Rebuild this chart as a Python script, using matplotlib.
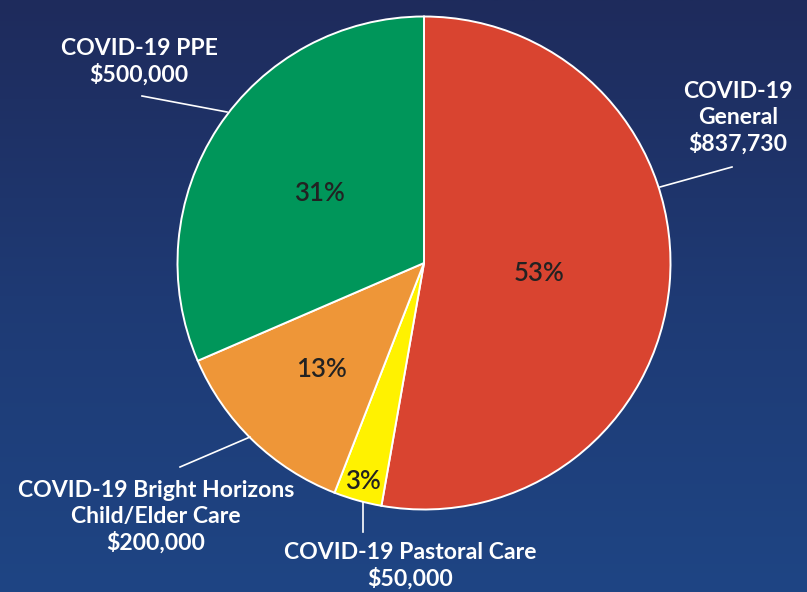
import numpy as np
import matplotlib
matplotlib.use("Agg")
import matplotlib.pyplot as plt
from matplotlib.colors import LinearSegmentedColormap

# ---- data ----
categories = ["COVID-19\nGeneral", "COVID-19 Pastoral Care", "COVID-19 Bright Horizons\nChild/Elder Care", "COVID-19 PPE"]
amounts = [837730, 50000, 200000, 500000]
amount_labels = ["$837,730", "$50,000", "$200,000", "$500,000"]
colors = ["#D94430", "#FFF200", "#EE9638", "#00965A"]

W, H = 807, 592
fig = plt.figure(figsize=(W / 100, H / 100), dpi=100)

# background gradient
bg = fig.add_axes([0, 0, 1, 1])
bg.set_axis_off()
cmap = LinearSegmentedColormap.from_list("bg", ["#1E2B5C", "#1F3A74", "#1E4584"])
grad = np.linspace(0, 1, 256).reshape(-1, 1)
bg.imshow(grad, aspect="auto", cmap=cmap, extent=[0, 1, 0, 1], origin="upper")
bg.set_xlim(0, 1)
bg.set_ylim(0, 1)

ax = fig.add_axes([0, 0, 1, 1])
ax.patch.set_alpha(0)

cx, cy, r = 424, H - 263, 246.5
pct_dist = [0.47, 0.92, 0.60, 0.51]

wedges, texts, autotexts = ax.pie(
    amounts, colors=colors, startangle=90, counterclock=False,
    center=(cx, cy), radius=r, autopct="%.0f%%", pctdistance=0.5,
    wedgeprops=dict(edgecolor="white", linewidth=1.4),
    textprops=dict(color="#222222", fontsize=18.5, family="Lato", weight="semibold"),
)
for w, t, d in zip(wedges, autotexts, pct_dist):
    ang = np.deg2rad((w.theta1 + w.theta2) / 2)
    t.set_position((cx + d * r * np.cos(ang), cy + d * r * np.sin(ang)))
    t.set_ha("center"); t.set_va("center")

# outside labels: (text pos px, leader start px, leader end px)
label_pos = [(738, 118), (410, 566), (156, 517), (139, 62)]
leader = [((732, 167), (660, 187)), ((363, 532), (363, 502)),
          ((180, 467), (250, 437)), ((142, 96), (227, 112))]
for cat, amt, (tx, ty), (p0, p1) in zip(categories, amount_labels, label_pos, leader):
    ax.text(tx, H - ty, cat + "\n" + amt, ha="center", va="center", color="white",
            fontsize=16.6, family="Lato", weight="bold", linespacing=1.25)
    ax.plot([p0[0], p1[0]], [H - p0[1], H - p1[1]], color="white", lw=1.2)

ax.set_xlim(0, W)
ax.set_ylim(0, H)
ax.set_aspect("auto")
ax.set_axis_off()

fig.savefig("out.png", dpi=100)
